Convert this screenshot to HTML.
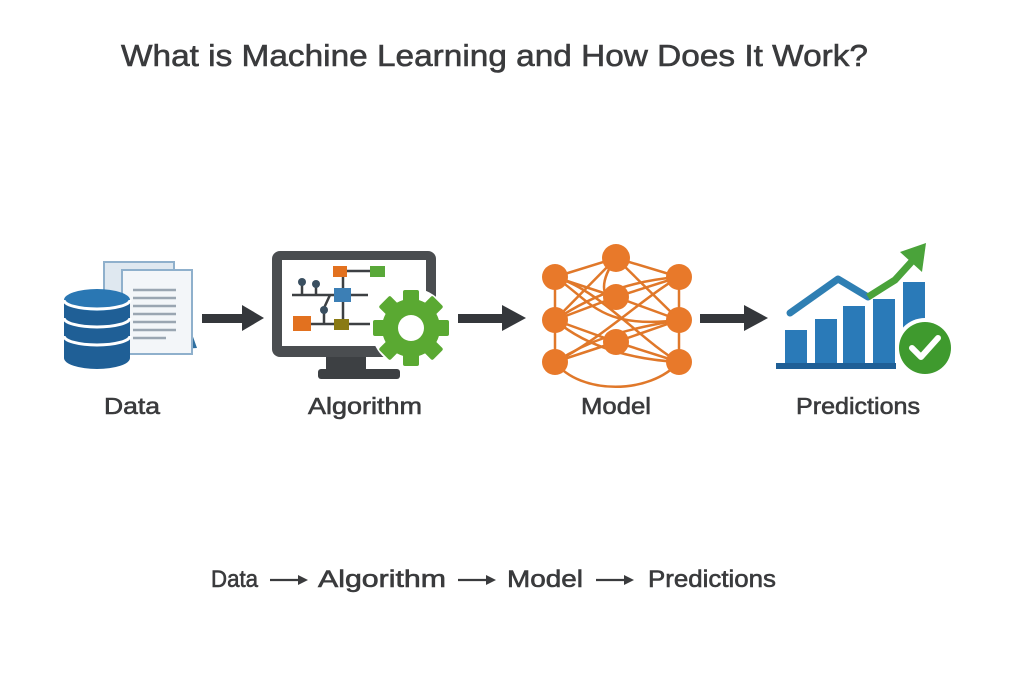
<!DOCTYPE html>
<html><head><meta charset="utf-8"><style>
html,body{margin:0;padding:0;background:#fff;}
svg{display:block}
text{font-family:"Liberation Sans",sans-serif;fill:#3a3b3d;stroke:#3a3b3d;stroke-width:0.6;}
</style></head><body>
<svg width="1024" height="683" viewBox="0 0 1024 683" xmlns="http://www.w3.org/2000/svg">
<rect width="1024" height="683" fill="#fff"/>
<text x="121" y="66" font-size="31" textLength="747" lengthAdjust="spacingAndGlyphs">What is Machine Learning and How Does It Work?</text>

<!-- Data icon -->
<polygon points="110,278 170,272 197,348 130,352" fill="#2f6fa0"/>
<rect x="104" y="262" width="70" height="80" fill="#dfe8f0" stroke="#8fb0cc" stroke-width="2"/>
<rect x="122" y="270" width="70" height="84" fill="#f3f6f9" stroke="#8fb0cc" stroke-width="2"/>
<g stroke="#9aa6b2" stroke-width="2.5">
<line x1="133" y1="290" x2="176" y2="290"/><line x1="133" y1="298" x2="176" y2="298"/><line x1="133" y1="306" x2="176" y2="306"/><line x1="133" y1="314" x2="176" y2="314"/><line x1="133" y1="322" x2="176" y2="322"/><line x1="133" y1="330" x2="176" y2="330"/><line x1="133" y1="338" x2="166" y2="338"/>
</g>
<path d="M64,300 L64,358 A33,11 0 0 0 130,358 L130,300 Z" fill="#1f5f96"/>
<ellipse cx="97" cy="300" rx="33" ry="11" fill="#2a77b3"/>
<g stroke="#fff" stroke-width="3" fill="none">
<path d="M64,318 A33,9 0 0 0 130,318"/><path d="M64,336 A33,9 0 0 0 130,336"/><path d="M64,300 A33,9 0 0 0 130,300"/>
</g>

<!-- arrows -->
<g fill="#34373b">
<rect x="202" y="314" width="42" height="9"/><polygon points="242,305 264,318 242,331"/>
<rect x="458" y="314" width="46" height="9"/><polygon points="502,305 526,318 502,331"/>
<rect x="700" y="314" width="46" height="9"/><polygon points="744,305 768,318 744,331"/>
</g>

<!-- Monitor -->
<rect x="326" y="352" width="40" height="20" fill="#3d4043"/>
<rect x="318" y="369" width="82" height="10" rx="3" fill="#3d4043"/>
<rect x="272" y="251" width="164" height="106" rx="8" fill="#4a4d50"/>
<rect x="282" y="260" width="144" height="86" fill="#fff"/>
<g stroke="#3d4043" stroke-width="2.5">
<line x1="292" y1="295" x2="368" y2="295"/><line x1="302" y1="283" x2="302" y2="295"/><line x1="316" y1="285" x2="316" y2="295"/>
<line x1="342" y1="271" x2="372" y2="271"/><line x1="343" y1="271" x2="343" y2="324"/><line x1="310" y1="324" x2="370" y2="324"/><line x1="330" y1="295" x2="324" y2="308"/><line x1="324" y1="308" x2="324" y2="324"/>
</g>
<circle cx="302" cy="282" r="4" fill="#3a4f60"/><circle cx="316" cy="284" r="4" fill="#3a4f60"/><circle cx="324" cy="310" r="4" fill="#3a4f60"/>
<rect x="333" y="266" width="14" height="11" fill="#e2711f"/>
<rect x="370" y="266" width="15" height="11" fill="#59a839"/>
<rect x="334" y="288" width="17" height="14" fill="#3c7fb5"/>
<rect x="293" y="316" width="18" height="15" fill="#e2711f"/>
<rect x="334" y="319" width="15" height="11" fill="#8a7a14"/>
<!-- gear -->
<g transform="translate(411,328)">
<circle r="40" fill="#fff"/>
<g fill="#5aa932">
<circle r="29"/>
<g id="t"><rect x="-8" y="-38" width="16" height="14" rx="2"/></g>
<use href="#t" transform="rotate(45)"/><use href="#t" transform="rotate(90)"/><use href="#t" transform="rotate(135)"/><use href="#t" transform="rotate(180)"/><use href="#t" transform="rotate(225)"/><use href="#t" transform="rotate(270)"/><use href="#t" transform="rotate(315)"/>
</g>
<circle r="13" fill="#fff"/>
</g>

<!-- Neural net -->
<g stroke="#e0782a" stroke-width="2.5" fill="none">
<path d="M555,277 L616,258 L679,277"/><path d="M555,277 C590,300 600,330 679,320"/><path d="M555,277 C600,290 640,340 679,362"/>
<path d="M555,320 C600,290 640,280 679,277"/><path d="M555,320 L616,297 L679,320"/><path d="M555,320 L616,342 L679,320"/>
<path d="M555,362 C600,340 640,300 679,277"/><path d="M555,362 C590,340 620,330 679,320"/><path d="M555,362 C580,395 650,395 679,362"/>
<path d="M555,277 L616,297"/><path d="M679,277 L616,297"/><path d="M555,362 L616,342"/><path d="M679,362 L616,342"/>
<path d="M616,258 C600,280 600,300 616,297"/><path d="M616,258 L555,320"/><path d="M616,258 L679,320"/>
<path d="M555,277 L555,362"/><path d="M679,277 L679,362"/>
<path d="M555,320 C590,350 640,360 679,362"/>
</g>
<g fill="#e8792a">
<circle cx="616" cy="258" r="14"/><circle cx="555" cy="277" r="13"/><circle cx="555" cy="320" r="13"/><circle cx="555" cy="362" r="13"/>
<circle cx="616" cy="297" r="13"/><circle cx="616" cy="342" r="13"/>
<circle cx="679" cy="277" r="13"/><circle cx="679" cy="320" r="13"/><circle cx="679" cy="362" r="13"/>
</g>

<!-- Chart -->
<rect x="776" y="363" width="120" height="6" fill="#1f5f96"/>
<g fill="#2a7ab8">
<rect x="785" y="330" width="22" height="33"/><rect x="815" y="319" width="22" height="44"/><rect x="843" y="306" width="22" height="57"/><rect x="873" y="299" width="22" height="64"/><rect x="903" y="282" width="22" height="50"/>
</g>
<polyline points="790,313 838,279 868,297" fill="none" stroke="#2f7fb3" stroke-width="7" stroke-linecap="round" stroke-linejoin="round"/>
<polyline points="868,297 895,280 915,258" fill="none" stroke="#4aa33a" stroke-width="7" stroke-linejoin="round"/>
<polygon points="926,243 922,272 900,252" fill="#4aa33a"/>
<circle cx="925" cy="348" r="30" fill="#fff"/>
<circle cx="925" cy="348" r="26" fill="#3f9a2e"/>
<polyline points="912,348 921,357 938,338" fill="none" stroke="#fff" stroke-width="6" stroke-linecap="round" stroke-linejoin="round"/>

<!-- labels -->
<g font-size="23">
<text x="104" y="414" textLength="56" lengthAdjust="spacingAndGlyphs">Data</text>
<text x="308" y="414" textLength="114" lengthAdjust="spacingAndGlyphs">Algorithm</text>
<text x="581" y="414" textLength="70" lengthAdjust="spacingAndGlyphs">Model</text>
<text x="796" y="414" textLength="124" lengthAdjust="spacingAndGlyphs">Predictions</text>
</g>
<g font-size="24">
<text x="211" y="587" textLength="47" lengthAdjust="spacingAndGlyphs">Data</text>
<text x="318" y="587" textLength="128" lengthAdjust="spacingAndGlyphs">Algorithm</text>
<text x="507" y="587" textLength="76" lengthAdjust="spacingAndGlyphs">Model</text>
<text x="648" y="587" textLength="128" lengthAdjust="spacingAndGlyphs">Predictions</text>
</g>
<g stroke="#3a3b3d" stroke-width="2.2" fill="#3a3b3d">
<line x1="270" y1="580" x2="300" y2="580"/><polygon points="298,575 308,580 298,585" stroke="none"/>
<line x1="458" y1="580" x2="488" y2="580"/><polygon points="486,575 496,580 486,585" stroke="none"/>
<line x1="596" y1="580" x2="626" y2="580"/><polygon points="624,575 634,580 624,585" stroke="none"/>
</g>
</svg>
</body></html>
